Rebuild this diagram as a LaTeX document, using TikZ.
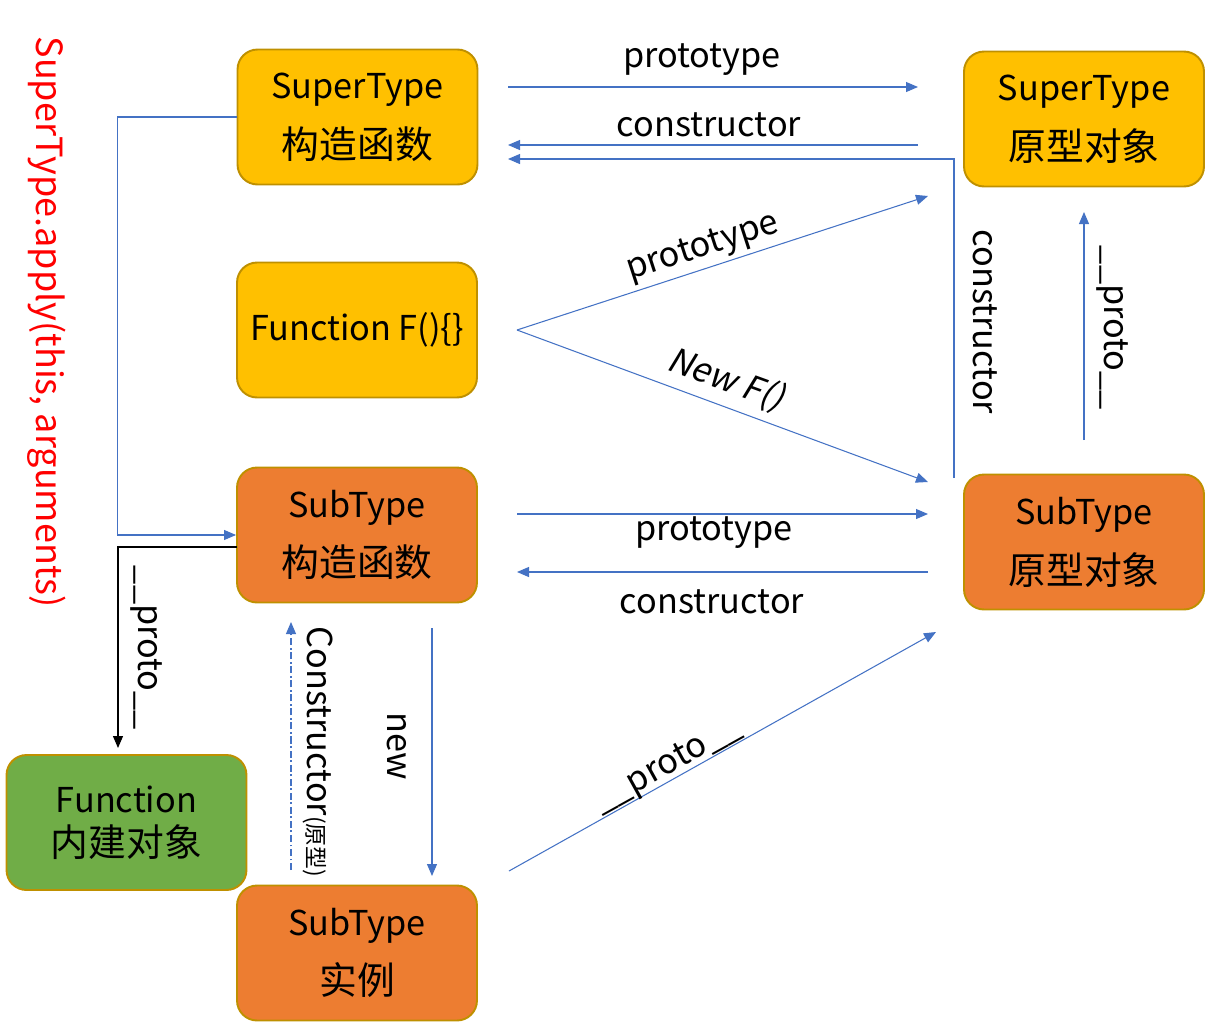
\documentclass[tikz,border=0pt]{standalone}
\usepackage{fontspec}
\setmainfont{Noto Sans CJK SC}
\newfontfamily\slfont[FakeSlant=0.2]{Noto Sans CJK SC}
\newcommand{\zh}[1]{{\fontsize{21.5}{34}\selectfont #1}}
\usetikzlibrary{arrows.meta}
\definecolor{boxyellow}{HTML}{FFC000}
\definecolor{boxorange}{HTML}{ED7D31}
\definecolor{boxgreen}{HTML}{70AD47}
\definecolor{boxline}{HTML}{BF9000}
\definecolor{linkblue}{HTML}{4472C4}
\tikzset{
  box/.style = {rounded corners = 0.4cm, draw = boxline, line width = 1.1pt,
    minimum width = 4.8cm, minimum height = 2.7cm, align = center,
    font = \fontsize{19.5}{34}\selectfont},
  lbl/.style = {font = \fontsize{19.5}{25}\selectfont, inner sep = 1pt},
  link/.style = {draw = linkblue, line width = 0.6pt}
}
\begin{document}
\begin{tikzpicture}[x = 0.02cm, y = -0.02cm, >={Triangle[length = 0.24cm, width = 0.2cm]}]
\useasboundingbox (0,0) rectangle (1205,1029);
% boxes
\node[box, fill = boxyellow] (STc) at (357.5,117) {SuperType\\\zh{构造函数}};
\node[box, fill = boxyellow] (STp) at (1084,119) {SuperType\\\zh{原型对象}};
\node[box, fill = boxyellow] (FF) at (357,330) {Function F()\{\}};
\node[box, fill = boxorange] (SBc) at (357,535) {SubType\\\zh{构造函数}};
\node[box, fill = boxorange] (SBp) at (1084,542) {SubType\\\zh{原型对象}};
\node[box, fill = boxgreen, font = \fontsize{19.5}{25}\selectfont] (FN) at (126.5,822.5) {Function\\\zh{内建对象}};
\node[box, fill = boxorange] (SBi) at (357,953) {SubType\\\zh{实例}};
% free ends
\coordinate (A1) at (508,87);  \coordinate (A2) at (918,87);
\coordinate (B1) at (918,145); \coordinate (B2) at (508,145);
\coordinate (C1) at (954,478); \coordinate (C2) at (508,159);
\coordinate (D0) at (517,330); \coordinate (D1) at (928,196); \coordinate (D2) at (928,482);
\coordinate (E1) at (517,514); \coordinate (E2) at (928,514);
\coordinate (F1) at (928,572); \coordinate (F2) at (517,572);
\coordinate (G1) at (1084,440); \coordinate (G2) at (1084,212);
\coordinate (H1) at (237,547); \coordinate (H2) at (118,748);
\coordinate (K1) at (432,628); \coordinate (K2) at (432,876);
\coordinate (M1) at (291,870); \coordinate (M2) at (291,622);
\coordinate (N1) at (509,871); \coordinate (N2) at (936,632);
% arrows
\draw [link, ->] (A1) -- (A2);
\draw [link, ->] (B1) -- (B2);
\draw [link, ->] (C1) |- (C2);
\draw [link, ->] (D0) -- (D1);
\draw [link, ->] (D0) -- (D2);
\draw [link, ->] (E1) -- (E2);
\draw [link, ->] (F1) -- (F2);
\draw [link, ->] (G1) -- (G2);
\draw [link, ->] (STc.west) -- ++(-119,0) |- (SBc.west);
\draw [line width = 0.6pt, ->] (H1) -| (H2);
\draw [link, ->] (K1) -- (K2);
\draw [link, ->, dash pattern = on 4pt off 1.5pt on 1pt off 1.5pt] (M1) -- (M2);
\draw [link, ->] (N1) -- (N2);
% labels
\node[lbl] (L1) at (702,60) {prototype};
\node[lbl] (L2) at (709,125) {constructor};
\node[lbl, rotate = 18] (L3) at (703,248) {prototype};
\node[lbl, rotate = -20, font = \slfont\fontsize{19.5}{25}\selectfont] (L4) at (726,380) {New F()};
\node[lbl] (L5) at (714,533) {prototype};
\node[lbl] (L6) at (712,602) {constructor};
\node[lbl, rotate = -90] (L7) at (985,322) {constructor};
\node[lbl, rotate = -90] (L8) at (1112,328) {\_\_proto\_\_};
\node[lbl, rotate = -90] (L9) at (146,648) {\_\_proto\_\_};
\node[lbl, rotate = -90] (L10) at (397,746) {new};
\node[lbl, rotate = -90] (L11) at (318,752) {Constructor{\fontsize{13}{15}\selectfont(原型)}};
\node[lbl, rotate = 29] (L12) at (668,766) {\_\_proto\_\_};
\node[lbl, rotate = -90, text = red, font = \fontsize{20.5}{25}\selectfont] (L13) at (47,322) {SuperType.apply(this, arguments)};
\end{tikzpicture}
\end{document}
